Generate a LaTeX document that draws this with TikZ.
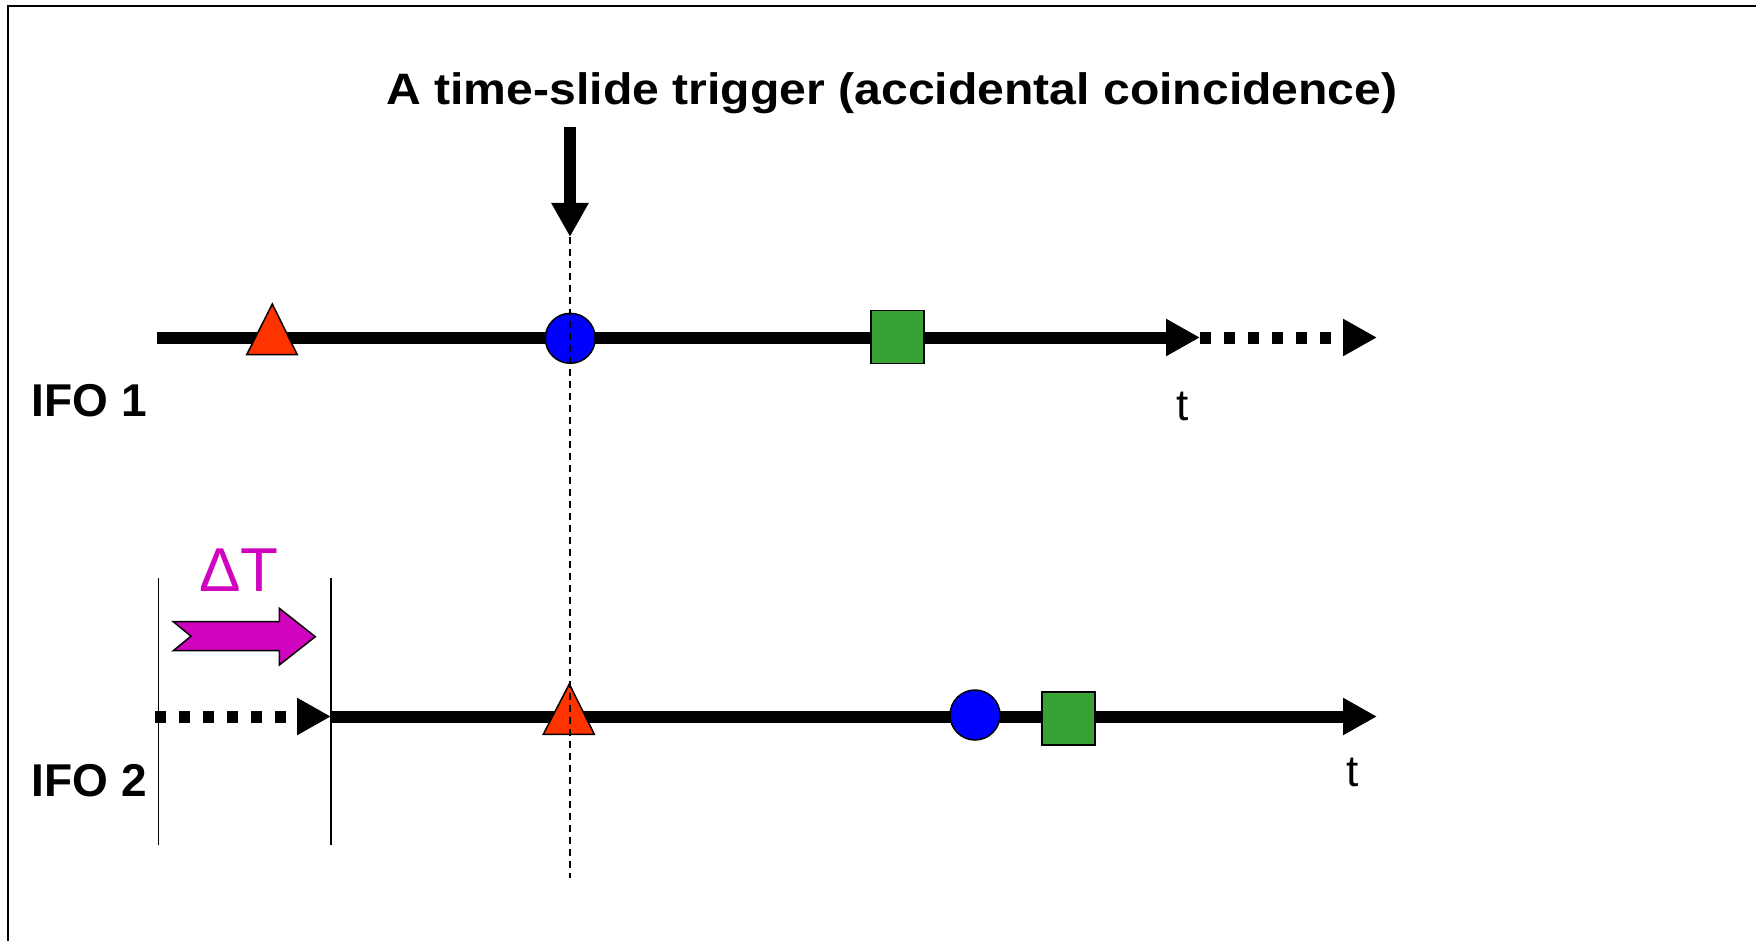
\documentclass[tikz,border=0pt]{standalone}
\usepackage{fontspec}
\setmainfont{Liberation Sans}
\usetikzlibrary{arrows.meta}
\definecolor{trired}{RGB}{255,51,0}
\definecolor{cblue}{RGB}{0,0,255}
\definecolor{sgreen}{RGB}{56,162,53}
\definecolor{dtmag}{RGB}{208,4,190}
\tikzset{
  axis/.style={line width=12pt, -{Triangle[length=34pt,width=35pt]}},
  dotaxis/.style={line width=12pt, dash pattern=on 11pt off 13pt, -{Triangle[length=34pt,width=35pt]}},
  evcircle/.style={circle, draw=black, line width=1.5pt, fill=cblue, minimum size=50pt, inner sep=0pt},
  evsquare/.style={rectangle, draw=black, line width=1.5pt, fill=sgreen, minimum size=53pt, inner sep=0pt},
  evtri/.style={draw=black, line width=1.5pt, fill=trired, line join=miter},
  boldlbl/.style={font=\fontsize{46}{52}\selectfont\bfseries, inner sep=0pt},
  titlelbl/.style={font=\fontsize{44}{50}\selectfont\bfseries, inner sep=0pt, xscale=1.094},
  tlbl/.style={font=\fontsize{44}{50}\selectfont, inner sep=0pt},
  thinline/.style={line width=1.4pt},
  coinc/.style={line width=1.6pt, dash pattern=on 7pt off 5pt}
}
\begin{document}
\begin{tikzpicture}[x=1pt,y=-1pt]
\useasboundingbox (0,0) rectangle (1756,941);
\clip (0,0) rectangle (1756,941);
\fill[white] (0,0) rectangle (1756,941);
\draw[line width=1.6pt] (8,6) rectangle (1780,980);

% title
\node[titlelbl, anchor=base] (title) at (892,105) {A time-slide trigger (accidental coincidence)};
\coordinate (trgtop) at (570,127);
\coordinate (trgtip) at (570,237);
\coordinate (coincbot) at (570,878);

% IFO 1 timeline
\coordinate (a1s) at (157,337.5);
\coordinate (a1e) at (1200,337.5);
\coordinate (a1x) at (1377,337.5);
\draw[axis] (a1s) -- (a1e);
\draw[dotaxis] (a1e) -- (a1x);
\draw[evtri] (246.7,354.7) -- (272.3,304) -- (297.3,354.7) -- cycle;
\node[evcircle] (c1) at (570.3,338.3) {};
\node[evsquare] (s1) at (897.5,337) {};
\node[boldlbl, anchor=base west] (ifo1) at (31.7,416.7) {IFO 1};
\node[tlbl, anchor=base] (t1) at (1183,420) {t};

% IFO 2 timeline
\coordinate (a2s) at (155,716.5);
\coordinate (a2m) at (331,716.5);
\coordinate (a2e) at (1377,716.5);
\draw[dotaxis] (a2s) -- (a2m);
\draw[axis] (a2m) -- (a2e);
\draw[evtri] (543.3,734.3) -- (569.3,684) -- (594.3,734.3) -- cycle;
\node[evcircle] (c2) at (975,715) {};
\node[evsquare] (s2) at (1068.3,718.3) {};
\node[boldlbl, anchor=base west] (ifo2) at (31.7,796) {IFO 2};
\node[tlbl, anchor=base] (t2) at (1353,786) {t};

% coincidence line and trigger arrow
\draw[coinc] (trgtip) -- (coincbot);
\draw[line width=12pt, -{Triangle[length=34pt,width=35pt]}] (trgtop) -- (trgtip);

% time shift
\coordinate (v1t) at (158.3,578);
\coordinate (v1b) at (158.3,845);
\coordinate (v2t) at (331,578);
\coordinate (v2b) at (331,845);
\draw[thinline] (v1t) -- (v1b);
\draw[thinline] (v2t) -- (v2b);
\draw[draw=black, line width=1.5pt, fill=dtmag, line join=miter]
  (173.3,621.7) -- (279.3,621.7) -- (279.3,608.3) -- (315.3,636.7) -- (279.3,665)
  -- (279.3,650.7) -- (173.3,650.7) -- (191,636.2) -- cycle;
\node[font=\fontsize{62}{70}\selectfont, text=dtmag, inner sep=0pt, anchor=base west] (dT) at (199,591.7) {ΔT};
\end{tikzpicture}
\end{document}
